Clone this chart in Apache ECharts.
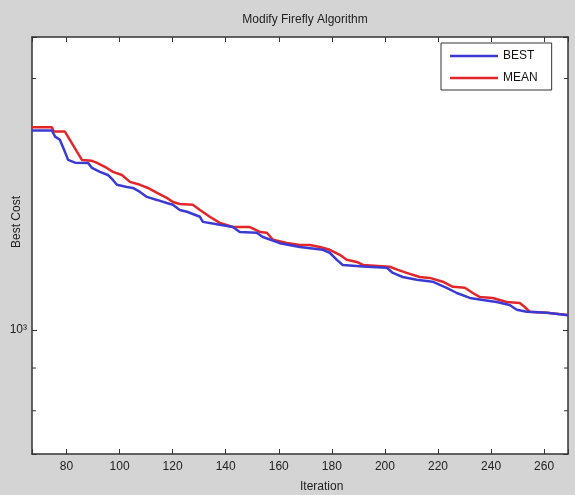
<!DOCTYPE html>
<html>
<head>
<meta charset="utf-8">
<script src="https://cdn.jsdelivr.net/npm/echarts@6/dist/echarts.min.js"></script>
<style>
html,body{margin:0;padding:0;background:#d4d4d4;}
#c{width:575px;height:495px;}
</style>
</head>
<body>
<div id="c"></div>
<script>
const chartTitle = 'Modify Firefly Algorithm';
const xName = 'Iteration';
const yName = 'Best Cost';
const seriesNames = ['BEST', 'MEAN'];
const xTicks = [80, 100, 120, 140, 160, 180, 200, 220, 240, 260];
const yMinorTicks = [800, 900, 2000];

const bestIter = [67, 74.5, 75.7, 77.5, 79.4, 80.6, 83.2, 88.1, 89.6, 92.6, 95.6, 97.5, 99.0, 102.8, 105.0, 107.7, 110.3, 114.1, 117.8, 120.1, 122.7, 125.4, 130.3, 131.4, 137.8, 142.7, 145.3, 151.7, 154.0, 160.4, 167.9, 176.6, 179.2, 181.9, 184.1, 193.2, 200.7, 203.0, 206.7, 212.0, 218.0, 220.7, 223.3, 227.1, 232.0, 236.9, 242.1, 247.0, 249.7, 253.4, 261.0, 269];
const bestCost = [1733, 1733, 1704, 1689, 1634, 1598, 1586, 1585, 1563, 1546, 1533, 1512, 1492, 1483, 1479, 1463, 1443, 1431, 1419, 1412, 1392, 1385, 1366, 1347, 1336, 1328, 1310, 1307, 1292, 1270, 1257, 1247, 1237, 1213, 1196, 1190, 1187, 1170, 1157, 1148, 1142, 1132, 1123, 1107, 1092, 1086, 1080, 1071, 1057, 1051, 1048, 1041];

const meanIter = [67, 74.5, 75.2, 79.4, 85.8, 89.6, 91.5, 95.2, 97.5, 100.9, 103.9, 107.7, 110.7, 114.1, 117.8, 120.1, 122.7, 127.6, 130.3, 134.0, 137.8, 142.7, 149.1, 152.9, 155.5, 157.8, 163.0, 167.9, 171.7, 175.5, 179.2, 183.0, 185.6, 189.4, 191.7, 201.8, 204.9, 208.2, 213.1, 216.9, 221.8, 225.6, 230.1, 233.1, 235.7, 240.6, 245.9, 250.8, 252.7, 254.6, 261.0, 269];
const meanCost = [1749, 1749, 1728, 1728, 1598, 1594, 1585, 1563, 1546, 1533, 1504, 1492, 1479, 1459, 1439, 1423, 1415, 1412, 1392, 1366, 1343, 1328, 1328, 1310, 1307, 1282, 1271, 1264, 1264, 1257, 1247, 1230, 1213, 1206, 1196, 1190, 1180, 1170, 1157, 1154, 1142, 1126, 1123, 1107, 1095, 1092, 1080, 1077, 1065, 1051, 1048, 1042];

const X_MIN = 67, X_MAX = 269, Y_MIN = 710, Y_MAX = 2243;
const FONT = '"Liberation Sans", Arial, sans-serif';
const AX = '#333333';
const BLUE = '#3b3bd4', RED = '#e3262a';

const bestData = bestIter.map((x, i) => [x, bestCost[i]]);
const meanData = meanIter.map((x, i) => [x, meanCost[i]]);

const chart = echarts.init(document.getElementById('c'), null, {renderer: 'canvas'});

function xAxisCfg(pos, show) {
  return {
    type: 'value', position: pos, min: X_MIN, max: X_MAX, splitNumber: 10,
    axisLine: {show: true, onZero: false, lineStyle: {color: AX, width: 1.5}},
    axisTick: {show: true, inside: true, length: 5, lineStyle: {color: AX, width: 1}},
    axisLabel: {show: show, color: '#222', fontFamily: FONT, fontSize: 12, margin: 7,
      formatter: v => xTicks.indexOf(Math.round(v)) >= 0 && Math.abs(v - Math.round(v)) < 1e-6 ? String(Math.round(v)) : ''},
    splitLine: {show: false}
  };
}
function yAxisCfg(pos, show) {
  return {
    type: 'log', logBase: 10, position: pos, min: Y_MIN, max: Y_MAX,
    axisLine: {show: true, onZero: false, lineStyle: {color: AX, width: 1.5}},
    axisTick: {show: true, inside: true, length: 5, lineStyle: {color: AX, width: 1}},
    axisLabel: {show: show, color: '#222', fontFamily: FONT, fontSize: 12, margin: 5,
      formatter: v => Math.abs(v - 1000) < 1 ? '10³' : ''},
    splitLine: {show: false}
  };
}

chart.setOption({
  backgroundColor: '#d4d4d4',
  animation: false,
  textStyle: {fontFamily: FONT},
  title: {
    text: chartTitle, left: 300, top: 9, textAlign: 'center',
    textStyle: {fontFamily: FONT, fontSize: 12, fontWeight: 'normal', color: '#222'}
  },
  grid: {left: 32, right: 7, top: 37, bottom: 41, show: true, backgroundColor: '#ffffff', borderWidth: 0},
  legend: {
    orient: 'vertical', left: 441, top: 43,
    data: [{name: seriesNames[0], icon: 'rect', itemStyle: {color: BLUE}},
           {name: seriesNames[1], icon: 'rect', itemStyle: {color: RED}}],
    itemWidth: 48, itemHeight: 2.5, itemGap: 8,
    padding: [6, 14, 5, 9],
    backgroundColor: '#ffffff', borderColor: '#333', borderWidth: 1,
    textStyle: {fontFamily: FONT, fontSize: 12, color: '#111', lineHeight: 14}
  },
  xAxis: [xAxisCfg('bottom', true), xAxisCfg('top', false)],
  yAxis: [yAxisCfg('left', true), yAxisCfg('right', false)],
  graphic: [
    {type: 'text', left: 300, top: 481, style: {text: xName, font: '12px ' + FONT, fill: '#222', textAlign: 'center'}},
    {type: 'text', x: 17, y: 222, rotation: Math.PI / 2, style: {text: yName, font: '12px ' + FONT, fill: '#222', textAlign: 'center', textVerticalAlign: 'middle'}}
  ],
  series: [
    {name: seriesNames[0], type: 'line', data: bestData, symbol: 'none', showSymbol: false, xAxisIndex: 0, yAxisIndex: 0,
      lineStyle: {color: BLUE, width: 2.5}, itemStyle: {color: BLUE}, z: 3},
    {name: seriesNames[1], type: 'line', data: meanData, symbol: 'none', showSymbol: false, xAxisIndex: 0, yAxisIndex: 0,
      lineStyle: {color: RED, width: 2.5}, itemStyle: {color: RED}, z: 2}
  ]
});

// minor log ticks (MATLAB style) computed via the axis scale
const left = chart.convertToPixel({xAxisIndex: 0}, X_MIN);
const right = chart.convertToPixel({xAxisIndex: 0}, X_MAX);
const extra = [];
yMinorTicks.forEach(v => {
  const py = chart.convertToPixel({yAxisIndex: 0}, v);
  extra.push({type: 'line', shape: {x1: left, y1: py, x2: left + 4, y2: py}, style: {stroke: AX, lineWidth: 1}, z: 10});
  extra.push({type: 'line', shape: {x1: right - 4, y1: py, x2: right, y2: py}, style: {stroke: AX, lineWidth: 1}, z: 10});
});
const opt = chart.getOption();
chart.setOption({graphic: opt.graphic[0].elements.concat(extra)}, {replaceMerge: ['graphic']});
</script>
</body>
</html>
